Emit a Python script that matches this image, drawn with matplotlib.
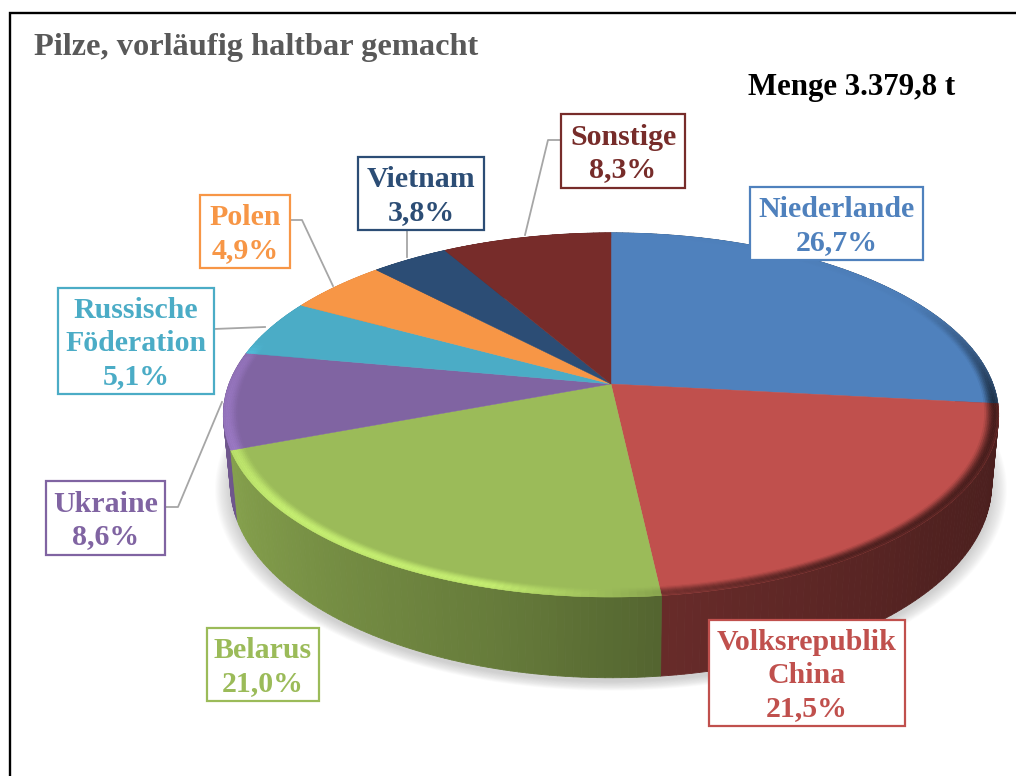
import numpy as np
import matplotlib.pyplot as plt
from matplotlib.collections import PolyCollection
from matplotlib.colors import to_rgb

# data
countries = ["Niederlande", "Volksrepublik\nChina", "Belarus", "Ukraine",
             "Russische\nFöderation", "Polen", "Vietnam", "Sonstige"]
shares = [26.7, 21.5, 21.0, 8.6, 5.1, 4.9, 3.8, 8.3]
colours = ["#4F81BD", "#C0504D", "#9BBB59", "#8064A2",
           "#4BACC6", "#F79646", "#2C4D75", "#772C2A"]
box_edges = [(750, 923, 187, 260), (709, 905, 620, 726), (207, 319, 628, 701), (46, 165, 481, 555),
             (58, 214, 288, 394), (200, 290, 195, 268), (358, 484, 157, 230), (561, 685, 114, 188)]
leaders = [None, None, None,
           ([165, 178, 222], [507, 507, 402]),
           ([214, 265], [329, 327]),
           ([290, 302, 333], [220, 220, 286]),
           ([407, 407], [230, 257]),
           ([561, 548, 525], [140, 140, 235])]
title = "Pilze, vorläufig haltbar gemacht"
amount = "Menge 3.379,8 t"

# pie geometry in pixels, perspective view of a circle
cx, cy = 611, 384
a, b, k = 382, 176.8, 0.17
d0 = 67
FONT = "Liberation Serif"


def project(theta, r=1.0):
    u = r * np.sin(theta)
    v = -r * np.cos(theta)
    w = 1 - k * v
    return cx + a * u / w, cy + b * v / w, w


def bottom(theta):
    x, y, w = project(theta)
    return cx + (x - cx) * 0.982, y + d0 / w


# wall brightness and rim shading by angle (degrees clockwise from top)
wall_deg = [0, 96, 130, 173.5, 194, 230, 255, 290, 360]
wall_val = [0.45, 0.38, 0.42, 0.54, 0.66, 0.8, 0.88, 0.9, 0.6]
rim_deg = [0, 60, 80, 96, 150, 173.4, 173.6, 195, 230, 252, 278, 284, 360]
rim_val = [0, -0.03, -0.35, -0.65, -0.6, -0.4, -0.12, 0.28, 0.28, 0.2, 0.15, 0, 0]


def shade(col, f):
    return tuple(np.clip(np.array(to_rgb(col)) * (1 + f), 0, 1))


fig = plt.figure(figsize=(10.16, 7.76), dpi=100)
ax = fig.add_axes([0, 0, 1, 1])
ax.set_xlim(0, 1016)
ax.set_ylim(776, 0)
ax.axis("off")

edges = np.cumsum([0] + shares) / sum(shares) * 2 * np.pi

# soft shadow under the pie
t = np.linspace(0, 2 * np.pi, 361)
bx, by = bottom(t)
for g in np.linspace(1.04, 1.0, 14):
    ax.fill(cx + (bx - cx) * g, 452 + (by - 452) * g + 4, color="#808080", alpha=0.028, lw=0, zorder=1)

# side wall
wall_polys, wall_cols = [], []
for i, col in enumerate(colours):
    th = np.linspace(edges[i], edges[i + 1], max(int(np.degrees(edges[i + 1] - edges[i])), 2) + 1)
    for t0, t1 in zip(th[:-1], th[1:]):
        x0, y0, _ = project(t0)
        x1, y1, _ = project(t1)
        x2, y2 = bottom(t1)
        x3, y3 = bottom(t0)
        wall_polys.append([(x0, y0), (x1, y1), (x2, y2), (x3, y3)])
        wall_cols.append(shade(col, np.interp(np.degrees(t0), wall_deg, wall_val) - 1))
order = np.argsort([p[0][1] for p in wall_polys])
ax.add_collection(PolyCollection([wall_polys[j] for j in order],
                                 facecolors=[wall_cols[j] for j in order],
                                 edgecolors=[wall_cols[j] for j in order], linewidths=0.6, zorder=2))

# top face
for i, col in enumerate(colours):
    th = np.linspace(edges[i], edges[i + 1], 120)
    x, y, _ = project(th)
    ax.fill(np.r_[cx, x], np.r_[cy, y], color=col, lw=0.3, zorder=3)

# rim bevel, thin bands along the outer edge
bands = np.linspace(0.96, 1.0, 10)
profile = np.sin(np.linspace(0, 1, 9) * np.pi * 0.62) ** 1.5
rim_polys, rim_cols = [], []
for i, col in enumerate(colours):
    th = np.linspace(edges[i], edges[i + 1], max(int(np.degrees(edges[i + 1] - edges[i])), 2) + 1)
    for j in range(9):
        for t0, t1 in zip(th[:-1], th[1:]):
            xa, ya, _ = project(t0, bands[j])
            xb, yb, _ = project(t1, bands[j])
            xc, yc, _ = project(t1, bands[j + 1])
            xd, yd, _ = project(t0, bands[j + 1])
            rim_polys.append([(xa, ya), (xb, yb), (xc, yc), (xd, yd)])
            rim_cols.append(shade(col, np.interp(np.degrees(t0), rim_deg, rim_val) * profile[j]))
ax.add_collection(PolyCollection(rim_polys, facecolors=rim_cols, edgecolors=rim_cols, linewidths=0.3, zorder=4))

# leader lines and label boxes
for i in range(len(countries)):
    if leaders[i] is not None:
        ax.plot(leaders[i][0], leaders[i][1], color="#A6A6A6", lw=1.3, zorder=5)
    x0, x1, y0, y1 = box_edges[i]
    ax.fill([x0, x1, x1, x0, x0], [y0, y0, y1, y1, y0], facecolor="white",
            edgecolor=colours[i], lw=1.6, zorder=6)
    label = countries[i] + "\n" + f"{shares[i]:.1f}".replace(".", ",") + "%"
    ax.text((x0 + x1) / 2, (y0 + y1) / 2 + 2.5, label, color=colours[i], family=FONT, weight="bold",
            fontsize=21.5, ha="center", va="center", linespacing=1.28, zorder=7)

# frame and titles
ax.plot([10, 10, 1016], [776, 13, 13], color="black", lw=1.7, zorder=8, solid_joinstyle="miter")
ax.text(34, 47, title, color="#595959", family=FONT, weight="bold", fontsize=23.3, ha="left", va="center")
ax.text(748, 88, amount, color="black", family=FONT, weight="bold", fontsize=22.2, ha="left", va="center")

fig.savefig("out.png", dpi=100)
